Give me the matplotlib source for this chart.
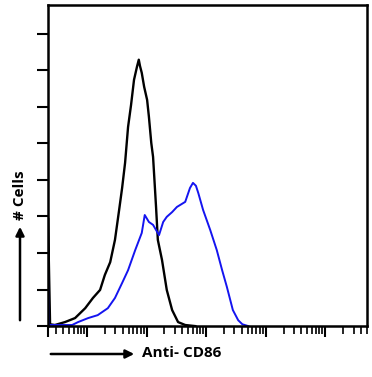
import numpy as np
import matplotlib
matplotlib.use('Agg')
import matplotlib.pyplot as plt
from matplotlib.ticker import FixedLocator, NullFormatter

# isotype control (black), log10 of intensity and cell counts
ctrl_logx = [-0.655, -0.655, -0.62, -0.54, -0.37, -0.20, -0.03, 0.10, 0.22, 0.30, 0.39,
             0.47, 0.54, 0.59, 0.64, 0.69, 0.74, 0.79, 0.84, 0.87, 0.89, 0.92, 0.96,
             1.01, 1.04, 1.08, 1.11, 1.14, 1.16, 1.19, 1.26, 1.34, 1.43, 1.53, 1.65, 1.82]
ctrl_cnt = [0, 29.6, 0.5, 0.3, 1.1, 2.2, 4.9, 7.7, 9.9, 14.0, 17.5,
            23.6, 31.8, 37.8, 44.7, 54.5, 60.5, 67.4, 71.0, 72.9, 71.2, 69.3, 65.5,
            61.9, 57.3, 50.1, 46.3, 38.1, 32.6, 23.6, 18.1, 9.9, 4.4, 1.1, 0.3, 0]

# anti-CD86 stained (blue)
cd86_logx = [-0.655, -0.655, -0.64, -0.25, -0.15, 0.02, 0.18, 0.35, 0.47, 0.59, 0.69,
             0.81, 0.92, 0.97, 1.04, 1.11, 1.21, 1.28, 1.34, 1.43, 1.51, 1.65, 1.73,
             1.78, 1.83, 1.87, 1.95, 2.07, 2.18, 2.27, 2.35, 2.45, 2.54, 2.61, 2.71]
cd86_cnt = [0, 16.2, 0.3, 0.3, 1.1, 2.2, 3.0, 4.9, 7.7, 11.8, 15.3,
            20.8, 25.5, 30.4, 28.5, 27.7, 24.9, 28.5, 29.9, 31.2, 32.6, 34.0, 37.8,
            39.2, 38.4, 36.4, 31.8, 26.3, 20.8, 15.3, 10.7, 4.4, 1.6, 0.5, 0]

y_ticks = np.arange(0, 90, 10)
x_decades = [0, 1, 2, 3, 4]

plt.rcParams['font.family'] = ['Open Sans', 'DejaVu Sans']

fig = plt.figure(figsize=(3.72, 3.77), dpi=100)
ax = fig.add_axes([0.129, 0.135, 0.858, 0.852])

ax.plot(10 ** np.array(ctrl_logx), ctrl_cnt, color='black', lw=1.7)
ax.plot(10 ** np.array(cd86_logx), cd86_cnt, color='#1414f0', lw=1.4)

ax.set_xscale('log')
xmin, xmax = 10 ** -0.655, 10 ** 4.706
ax.set_xlim(xmin, xmax)
ax.set_ylim(0, 87.9)

majors = [xmin] + [10.0 ** d for d in x_decades]
minors = [m * 10.0 ** d for d in range(-1, 5) for m in range(2, 10)]
minors = [v for v in minors if 10 ** -0.62 < v < 10 ** 4.7]
ax.xaxis.set_major_locator(FixedLocator(majors))
ax.xaxis.set_minor_locator(FixedLocator(minors))
ax.xaxis.set_major_formatter(NullFormatter())
ax.xaxis.set_minor_formatter(NullFormatter())
ax.set_yticks(y_ticks)
ax.set_yticklabels([])

for s in ax.spines.values():
    s.set_linewidth(1.8)
ax.tick_params(axis='x', which='major', length=8, width=1.5, direction='out')
ax.tick_params(axis='x', which='minor', length=6, width=1.2, direction='out')
ax.tick_params(axis='y', which='major', length=8, width=1.5, direction='out')

# axis labels with arrows
fig.patches.append(matplotlib.patches.FancyArrowPatch(
    (48 / 372, 1 - 354 / 377), (137 / 372, 1 - 354 / 377), transform=fig.transFigure,
    arrowstyle='-|>,head_length=5,head_width=2.5', color='black', lw=1.8))
fig.text(142 / 372, 1 - 353 / 377, 'Anti- CD86', fontsize=11, fontweight='bold',
         ha='left', va='center')
fig.patches.append(matplotlib.patches.FancyArrowPatch(
    (20 / 372, 1 - 323 / 377), (20 / 372, 1 - 224 / 377), transform=fig.transFigure,
    arrowstyle='-|>,head_length=5,head_width=2.5', color='black', lw=1.8))
fig.text(20 / 372, 1 - 195 / 377, '# Cells', fontsize=11, fontweight='bold',
         rotation=90, ha='center', va='center')

fig.savefig('out.png', dpi=100)
